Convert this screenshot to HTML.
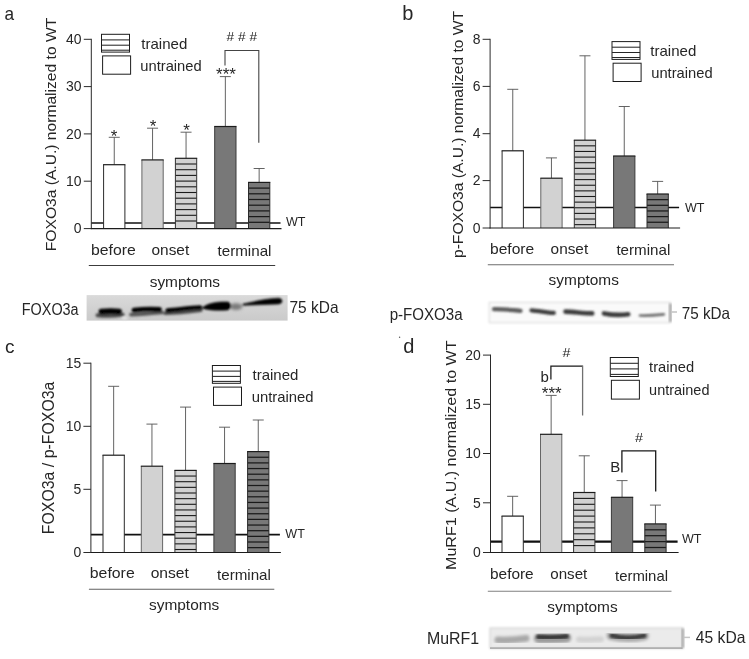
<!DOCTYPE html>
<html><head><meta charset="utf-8"><title>figure</title>
<style>
html,body{margin:0;padding:0;background:#fff;}
svg{display:block;opacity:0.999;font-family:"Liberation Sans",sans-serif;}
</style></head><body>
<svg width="749" height="659" viewBox="0 0 749 659">
<defs>
<filter id="bl1" x="-10%" y="-50%" width="120%" height="200%"><feGaussianBlur stdDeviation="0.9"/></filter>
<linearGradient id="bga" x1="0" y1="0" x2="0" y2="1"><stop offset="0" stop-color="#dadada"/><stop offset="1" stop-color="#cacaca"/></linearGradient>
<filter id="bl2" x="-10%" y="-50%" width="120%" height="200%"><feGaussianBlur stdDeviation="0.8"/></filter>
<filter id="bl4" x="-2%" y="-200%" width="104%" height="500%"><feGaussianBlur stdDeviation="0.7"/></filter>
<filter id="bl3" x="-10%" y="-50%" width="120%" height="200%"><feGaussianBlur stdDeviation="1.6"/></filter>
</defs>
<rect width="749" height="659" fill="#fff"/>

<g id="pa">
<text x="4.6" y="19.8" font-size="19" text-anchor="start" fill="#262626" textLength="9.6" lengthAdjust="spacingAndGlyphs">a</text>
<text transform="translate(56.0,251.2) rotate(-90)" font-size="15.5" fill="#262626" textLength="233.4" lengthAdjust="spacingAndGlyphs">FOXO3a (A.U.) normalized to WT</text>
<line x1="91.3" y1="223" x2="280.5" y2="223" stroke="#111" stroke-width="1.7"/>
<line x1="114.25" y1="137.3" x2="114.25" y2="164.7" stroke="#525252" stroke-width="0.9"/>
<line x1="108.75" y1="137.3" x2="119.75" y2="137.3" stroke="#525252" stroke-width="0.9"/>
<rect x="103.6" y="164.7" width="21.3" height="63.9" fill="#fff" stroke="none"/>
<line x1="103.6" y1="164.7" x2="103.6" y2="228.6" stroke="#2a2a2a" stroke-width="1.0"/>
<line x1="124.89999999999999" y1="164.7" x2="124.89999999999999" y2="228.6" stroke="#2a2a2a" stroke-width="1.0"/>
<line x1="103.1" y1="164.7" x2="125.39999999999999" y2="164.7" stroke="#1c1c1c" stroke-width="1.2"/>
<line x1="152.55" y1="128.2" x2="152.55" y2="159.9" stroke="#525252" stroke-width="0.9"/>
<line x1="147.05" y1="128.2" x2="158.05" y2="128.2" stroke="#525252" stroke-width="0.9"/>
<rect x="141.9" y="159.9" width="21.3" height="68.7" fill="#d2d2d2" stroke="none"/>
<line x1="141.9" y1="159.9" x2="141.9" y2="228.6" stroke="#666" stroke-width="1.0"/>
<line x1="163.20000000000002" y1="159.9" x2="163.20000000000002" y2="228.6" stroke="#666" stroke-width="1.0"/>
<line x1="141.4" y1="159.9" x2="163.70000000000002" y2="159.9" stroke="#1c1c1c" stroke-width="1.2"/>
<line x1="186.05" y1="132.2" x2="186.05" y2="158.3" stroke="#525252" stroke-width="0.9"/>
<line x1="180.55" y1="132.2" x2="191.55" y2="132.2" stroke="#525252" stroke-width="0.9"/>
<rect x="175.4" y="158.3" width="21.3" height="70.3" fill="#d2d2d2" stroke="none"/>
<line x1="175.4" y1="164.0" x2="196.70000000000002" y2="164.0" stroke="#1a1a1a" stroke-width="1.1"/>
<line x1="175.4" y1="169.7" x2="196.70000000000002" y2="169.7" stroke="#1a1a1a" stroke-width="1.1"/>
<line x1="175.4" y1="175.4" x2="196.70000000000002" y2="175.4" stroke="#1a1a1a" stroke-width="1.1"/>
<line x1="175.4" y1="181.1" x2="196.70000000000002" y2="181.1" stroke="#1a1a1a" stroke-width="1.1"/>
<line x1="175.4" y1="186.8" x2="196.70000000000002" y2="186.8" stroke="#1a1a1a" stroke-width="1.1"/>
<line x1="175.4" y1="192.5" x2="196.70000000000002" y2="192.5" stroke="#1a1a1a" stroke-width="1.1"/>
<line x1="175.4" y1="198.2" x2="196.70000000000002" y2="198.2" stroke="#1a1a1a" stroke-width="1.1"/>
<line x1="175.4" y1="203.9" x2="196.70000000000002" y2="203.9" stroke="#1a1a1a" stroke-width="1.1"/>
<line x1="175.4" y1="209.6" x2="196.70000000000002" y2="209.6" stroke="#1a1a1a" stroke-width="1.1"/>
<line x1="175.4" y1="215.3" x2="196.70000000000002" y2="215.3" stroke="#1a1a1a" stroke-width="1.1"/>
<line x1="175.4" y1="221.0" x2="196.70000000000002" y2="221.0" stroke="#1a1a1a" stroke-width="1.1"/>
<line x1="175.4" y1="158.3" x2="175.4" y2="228.6" stroke="#333" stroke-width="1.0"/>
<line x1="196.70000000000002" y1="158.3" x2="196.70000000000002" y2="228.6" stroke="#333" stroke-width="1.0"/>
<line x1="174.9" y1="158.3" x2="197.20000000000002" y2="158.3" stroke="#1c1c1c" stroke-width="1.2"/>
<line x1="225.35" y1="76.6" x2="225.35" y2="126.5" stroke="#525252" stroke-width="0.9"/>
<line x1="219.85" y1="76.6" x2="230.85" y2="76.6" stroke="#525252" stroke-width="0.9"/>
<rect x="214.7" y="126.5" width="21.3" height="102.1" fill="#787878" stroke="none"/>
<line x1="214.7" y1="126.5" x2="214.7" y2="228.6" stroke="#3a3a3a" stroke-width="1.0"/>
<line x1="236.0" y1="126.5" x2="236.0" y2="228.6" stroke="#3a3a3a" stroke-width="1.0"/>
<line x1="214.2" y1="126.5" x2="236.5" y2="126.5" stroke="#1c1c1c" stroke-width="1.2"/>
<line x1="259.15" y1="168.5" x2="259.15" y2="182.4" stroke="#525252" stroke-width="0.9"/>
<line x1="253.64999999999998" y1="168.5" x2="264.65" y2="168.5" stroke="#525252" stroke-width="0.9"/>
<rect x="248.5" y="182.4" width="21.3" height="46.2" fill="#787878" stroke="none"/>
<line x1="248.5" y1="188.1" x2="269.8" y2="188.1" stroke="#1a1a1a" stroke-width="1.25"/>
<line x1="248.5" y1="193.8" x2="269.8" y2="193.8" stroke="#1a1a1a" stroke-width="1.25"/>
<line x1="248.5" y1="199.5" x2="269.8" y2="199.5" stroke="#1a1a1a" stroke-width="1.25"/>
<line x1="248.5" y1="205.2" x2="269.8" y2="205.2" stroke="#1a1a1a" stroke-width="1.25"/>
<line x1="248.5" y1="210.9" x2="269.8" y2="210.9" stroke="#1a1a1a" stroke-width="1.25"/>
<line x1="248.5" y1="216.6" x2="269.8" y2="216.6" stroke="#1a1a1a" stroke-width="1.25"/>
<line x1="248.5" y1="222.3" x2="269.8" y2="222.3" stroke="#1a1a1a" stroke-width="1.25"/>
<line x1="248.5" y1="182.4" x2="248.5" y2="228.6" stroke="#2a2a2a" stroke-width="1.0"/>
<line x1="269.8" y1="182.4" x2="269.8" y2="228.6" stroke="#2a2a2a" stroke-width="1.0"/>
<line x1="248.0" y1="182.4" x2="270.3" y2="182.4" stroke="#1c1c1c" stroke-width="1.2"/>
<line x1="91.3" y1="38.8" x2="91.3" y2="229.1" stroke="#2a2a2a" stroke-width="1.0"/>
<line x1="90.8" y1="228.6" x2="281.5" y2="228.6" stroke="#1c1c1c" stroke-width="1.15"/>
<line x1="83.8" y1="39.3" x2="91.3" y2="39.3" stroke="#2a2a2a" stroke-width="1.0"/>
<text x="81.6" y="44.0" font-size="14.7" text-anchor="end" fill="#262626" textLength="15.52" lengthAdjust="spacingAndGlyphs">40</text>
<line x1="83.8" y1="86.6" x2="91.3" y2="86.6" stroke="#2a2a2a" stroke-width="1.0"/>
<text x="81.6" y="91.3" font-size="14.7" text-anchor="end" fill="#262626" textLength="15.52" lengthAdjust="spacingAndGlyphs">30</text>
<line x1="83.8" y1="133.9" x2="91.3" y2="133.9" stroke="#2a2a2a" stroke-width="1.0"/>
<text x="81.6" y="138.6" font-size="14.7" text-anchor="end" fill="#262626" textLength="15.52" lengthAdjust="spacingAndGlyphs">20</text>
<line x1="83.8" y1="181.2" x2="91.3" y2="181.2" stroke="#2a2a2a" stroke-width="1.0"/>
<text x="81.6" y="185.89999999999998" font-size="14.7" text-anchor="end" fill="#262626" textLength="15.52" lengthAdjust="spacingAndGlyphs">10</text>
<line x1="83.8" y1="228.6" x2="91.3" y2="228.6" stroke="#2a2a2a" stroke-width="1.0"/>
<text x="81.6" y="233.29999999999998" font-size="14.7" text-anchor="end" fill="#262626" textLength="7.76" lengthAdjust="spacingAndGlyphs">0</text>
<text x="91.0" y="254.5" font-size="15" text-anchor="start" fill="#262626" textLength="44.8" lengthAdjust="spacingAndGlyphs">before</text>
<text x="151.5" y="254.5" font-size="15" text-anchor="start" fill="#262626" textLength="37.7" lengthAdjust="spacingAndGlyphs">onset</text>
<text x="217.5" y="256.4" font-size="15" text-anchor="start" fill="#262626" textLength="54" lengthAdjust="spacingAndGlyphs">terminal</text>
<line x1="88.8" y1="265.5" x2="275.2" y2="265.5" stroke="#3c3c3c" stroke-width="1.1"/>
<text x="149.7" y="286.6" font-size="15" text-anchor="start" fill="#262626" textLength="70.3" lengthAdjust="spacingAndGlyphs">symptoms</text>
<text x="286" y="226.4" font-size="12.5" text-anchor="start" fill="#262626" textLength="19.5" lengthAdjust="spacingAndGlyphs">WT</text>
<rect x="101.5" y="34.3" width="28" height="17.8" fill="#fff" stroke="#1c1c1c" stroke-width="1"/>
<line x1="101.5" y1="39.9" x2="129.5" y2="39.9" stroke="#262626" stroke-width="1.05"/>
<line x1="101.5" y1="45.199999999999996" x2="129.5" y2="45.199999999999996" stroke="#262626" stroke-width="1.05"/>
<line x1="101.5" y1="50.199999999999996" x2="129.5" y2="50.199999999999996" stroke="#262626" stroke-width="1.05"/>
<rect x="102.6" y="55.9" width="28" height="18.3" fill="#fff" stroke="#1c1c1c" stroke-width="1"/>
<text x="141.3" y="49.0" font-size="15" text-anchor="start" fill="#262626" textLength="46" lengthAdjust="spacingAndGlyphs">trained</text>
<text x="140.3" y="70.6" font-size="15" text-anchor="start" fill="#262626" textLength="61.4" lengthAdjust="spacingAndGlyphs">untrained</text>
<text x="114.1" y="142" font-size="17" text-anchor="middle" fill="#262626">*</text>
<text x="153" y="132.4" font-size="17" text-anchor="middle" fill="#262626">*</text>
<text x="186.6" y="135.7" font-size="17" text-anchor="middle" fill="#262626">*</text>
<text x="226" y="80.2" font-size="17" text-anchor="middle" fill="#262626">***</text>
<text x="226.6" y="41" font-size="12.5" text-anchor="start" fill="#262626" textLength="30.5" lengthAdjust="spacingAndGlyphs"># # #</text>
<polyline points="225,65.5 225,50.5 258.8,50.5 258.8,142.7" fill="none" stroke="#444" stroke-width="1.1"/>
</g>
<g id="pb">
<text x="402.2" y="19.8" font-size="20" text-anchor="start" fill="#262626">b</text>
<text transform="translate(462.8,258) rotate(-90)" font-size="15.5" fill="#262626" textLength="247" lengthAdjust="spacingAndGlyphs">p-FOXO3a (A.U.) normalized to WT</text>
<line x1="490.1" y1="207.5" x2="679.1" y2="207.5" stroke="#111" stroke-width="1.4"/>
<line x1="512.75" y1="89.3" x2="512.75" y2="150.8" stroke="#525252" stroke-width="0.9"/>
<line x1="507.25" y1="89.3" x2="518.25" y2="89.3" stroke="#525252" stroke-width="0.9"/>
<rect x="502.1" y="150.8" width="21.3" height="77.2" fill="#fff" stroke="none"/>
<line x1="502.1" y1="150.8" x2="502.1" y2="228" stroke="#2a2a2a" stroke-width="1.0"/>
<line x1="523.4" y1="150.8" x2="523.4" y2="228" stroke="#2a2a2a" stroke-width="1.0"/>
<line x1="501.6" y1="150.8" x2="523.9" y2="150.8" stroke="#1c1c1c" stroke-width="1.2"/>
<line x1="551.4499999999999" y1="157.9" x2="551.4499999999999" y2="178.2" stroke="#525252" stroke-width="0.9"/>
<line x1="545.9499999999999" y1="157.9" x2="556.9499999999999" y2="157.9" stroke="#525252" stroke-width="0.9"/>
<rect x="540.8" y="178.2" width="21.3" height="49.8" fill="#d2d2d2" stroke="none"/>
<line x1="540.8" y1="178.2" x2="540.8" y2="228" stroke="#666" stroke-width="1.0"/>
<line x1="562.0999999999999" y1="178.2" x2="562.0999999999999" y2="228" stroke="#666" stroke-width="1.0"/>
<line x1="540.3" y1="178.2" x2="562.5999999999999" y2="178.2" stroke="#1c1c1c" stroke-width="1.2"/>
<line x1="584.9499999999999" y1="55.8" x2="584.9499999999999" y2="140.2" stroke="#525252" stroke-width="0.9"/>
<line x1="579.4499999999999" y1="55.8" x2="590.4499999999999" y2="55.8" stroke="#525252" stroke-width="0.9"/>
<rect x="574.3" y="140.2" width="21.3" height="87.8" fill="#d2d2d2" stroke="none"/>
<line x1="574.3" y1="145.83" x2="595.5999999999999" y2="145.83" stroke="#1a1a1a" stroke-width="1.1"/>
<line x1="574.3" y1="151.46" x2="595.5999999999999" y2="151.46" stroke="#1a1a1a" stroke-width="1.1"/>
<line x1="574.3" y1="157.09" x2="595.5999999999999" y2="157.09" stroke="#1a1a1a" stroke-width="1.1"/>
<line x1="574.3" y1="162.72" x2="595.5999999999999" y2="162.72" stroke="#1a1a1a" stroke-width="1.1"/>
<line x1="574.3" y1="168.35" x2="595.5999999999999" y2="168.35" stroke="#1a1a1a" stroke-width="1.1"/>
<line x1="574.3" y1="173.98" x2="595.5999999999999" y2="173.98" stroke="#1a1a1a" stroke-width="1.1"/>
<line x1="574.3" y1="179.61" x2="595.5999999999999" y2="179.61" stroke="#1a1a1a" stroke-width="1.1"/>
<line x1="574.3" y1="185.24" x2="595.5999999999999" y2="185.24" stroke="#1a1a1a" stroke-width="1.1"/>
<line x1="574.3" y1="190.87" x2="595.5999999999999" y2="190.87" stroke="#1a1a1a" stroke-width="1.1"/>
<line x1="574.3" y1="196.5" x2="595.5999999999999" y2="196.5" stroke="#1a1a1a" stroke-width="1.1"/>
<line x1="574.3" y1="202.13" x2="595.5999999999999" y2="202.13" stroke="#1a1a1a" stroke-width="1.1"/>
<line x1="574.3" y1="207.76" x2="595.5999999999999" y2="207.76" stroke="#1a1a1a" stroke-width="1.1"/>
<line x1="574.3" y1="213.39" x2="595.5999999999999" y2="213.39" stroke="#1a1a1a" stroke-width="1.1"/>
<line x1="574.3" y1="219.02" x2="595.5999999999999" y2="219.02" stroke="#1a1a1a" stroke-width="1.1"/>
<line x1="574.3" y1="224.65" x2="595.5999999999999" y2="224.65" stroke="#1a1a1a" stroke-width="1.1"/>
<line x1="574.3" y1="140.2" x2="574.3" y2="228" stroke="#333" stroke-width="1.0"/>
<line x1="595.5999999999999" y1="140.2" x2="595.5999999999999" y2="228" stroke="#333" stroke-width="1.0"/>
<line x1="573.8" y1="140.2" x2="596.0999999999999" y2="140.2" stroke="#1c1c1c" stroke-width="1.2"/>
<line x1="624.25" y1="106.5" x2="624.25" y2="156.0" stroke="#525252" stroke-width="0.9"/>
<line x1="618.75" y1="106.5" x2="629.75" y2="106.5" stroke="#525252" stroke-width="0.9"/>
<rect x="613.6" y="156.0" width="21.3" height="72.0" fill="#787878" stroke="none"/>
<line x1="613.6" y1="156.0" x2="613.6" y2="228" stroke="#3a3a3a" stroke-width="1.0"/>
<line x1="634.9" y1="156.0" x2="634.9" y2="228" stroke="#3a3a3a" stroke-width="1.0"/>
<line x1="613.1" y1="156.0" x2="635.4" y2="156.0" stroke="#1c1c1c" stroke-width="1.2"/>
<line x1="657.65" y1="181.4" x2="657.65" y2="194.0" stroke="#525252" stroke-width="0.9"/>
<line x1="652.15" y1="181.4" x2="663.15" y2="181.4" stroke="#525252" stroke-width="0.9"/>
<rect x="647.0" y="194.0" width="21.3" height="34.0" fill="#787878" stroke="none"/>
<line x1="647.0" y1="199.65" x2="668.3" y2="199.65" stroke="#1a1a1a" stroke-width="1.25"/>
<line x1="647.0" y1="205.3" x2="668.3" y2="205.3" stroke="#1a1a1a" stroke-width="1.25"/>
<line x1="647.0" y1="210.95" x2="668.3" y2="210.95" stroke="#1a1a1a" stroke-width="1.25"/>
<line x1="647.0" y1="216.6" x2="668.3" y2="216.6" stroke="#1a1a1a" stroke-width="1.25"/>
<line x1="647.0" y1="222.25" x2="668.3" y2="222.25" stroke="#1a1a1a" stroke-width="1.25"/>
<line x1="647.0" y1="194.0" x2="647.0" y2="228" stroke="#2a2a2a" stroke-width="1.0"/>
<line x1="668.3" y1="194.0" x2="668.3" y2="228" stroke="#2a2a2a" stroke-width="1.0"/>
<line x1="646.5" y1="194.0" x2="668.8" y2="194.0" stroke="#1c1c1c" stroke-width="1.2"/>
<line x1="490.1" y1="38.8" x2="490.1" y2="228.5" stroke="#2a2a2a" stroke-width="1.0"/>
<line x1="489.6" y1="228" x2="680.1" y2="228" stroke="#1c1c1c" stroke-width="1.15"/>
<line x1="482.6" y1="39.3" x2="490.1" y2="39.3" stroke="#2a2a2a" stroke-width="1.0"/>
<text x="480.40000000000003" y="44.0" font-size="14.7" text-anchor="end" fill="#262626" textLength="7.76" lengthAdjust="spacingAndGlyphs">8</text>
<line x1="482.6" y1="86.4" x2="490.1" y2="86.4" stroke="#2a2a2a" stroke-width="1.0"/>
<text x="480.40000000000003" y="91.10000000000001" font-size="14.7" text-anchor="end" fill="#262626" textLength="7.76" lengthAdjust="spacingAndGlyphs">6</text>
<line x1="482.6" y1="133.7" x2="490.1" y2="133.7" stroke="#2a2a2a" stroke-width="1.0"/>
<text x="480.40000000000003" y="138.39999999999998" font-size="14.7" text-anchor="end" fill="#262626" textLength="7.76" lengthAdjust="spacingAndGlyphs">4</text>
<line x1="482.6" y1="180.6" x2="490.1" y2="180.6" stroke="#2a2a2a" stroke-width="1.0"/>
<text x="480.40000000000003" y="185.29999999999998" font-size="14.7" text-anchor="end" fill="#262626" textLength="7.76" lengthAdjust="spacingAndGlyphs">2</text>
<line x1="482.6" y1="228" x2="490.1" y2="228" stroke="#2a2a2a" stroke-width="1.0"/>
<text x="480.40000000000003" y="232.7" font-size="14.7" text-anchor="end" fill="#262626" textLength="7.76" lengthAdjust="spacingAndGlyphs">0</text>
<text x="490.0" y="253.8" font-size="15" text-anchor="start" fill="#262626" textLength="44.2" lengthAdjust="spacingAndGlyphs">before</text>
<text x="550.6" y="253.8" font-size="15" text-anchor="start" fill="#262626" textLength="37.6" lengthAdjust="spacingAndGlyphs">onset</text>
<text x="616.4" y="255.4" font-size="15" text-anchor="start" fill="#262626" textLength="53.9" lengthAdjust="spacingAndGlyphs">terminal</text>
<line x1="487.8" y1="264.7" x2="674" y2="264.7" stroke="#6c6c6c" stroke-width="1.1"/>
<text x="548.6" y="285.3" font-size="15" text-anchor="start" fill="#262626" textLength="70.3" lengthAdjust="spacingAndGlyphs">symptoms</text>
<text x="684.9" y="212.4" font-size="12.5" text-anchor="start" fill="#262626" textLength="19.5" lengthAdjust="spacingAndGlyphs">WT</text>
<rect x="612" y="41.6" width="28" height="17.8" fill="#fff" stroke="#1c1c1c" stroke-width="1"/>
<line x1="612" y1="47.2" x2="640" y2="47.2" stroke="#262626" stroke-width="1.05"/>
<line x1="612" y1="52.5" x2="640" y2="52.5" stroke="#262626" stroke-width="1.05"/>
<line x1="612" y1="57.5" x2="640" y2="57.5" stroke="#262626" stroke-width="1.05"/>
<rect x="613.1" y="63.2" width="28" height="18.3" fill="#fff" stroke="#1c1c1c" stroke-width="1"/>
<text x="650.3" y="55.5" font-size="15" text-anchor="start" fill="#262626" textLength="46" lengthAdjust="spacingAndGlyphs">trained</text>
<text x="651.1999999999999" y="77.5" font-size="15" text-anchor="start" fill="#262626" textLength="61.4" lengthAdjust="spacingAndGlyphs">untrained</text>
</g>
<g id="pc">
<text x="5" y="352.8" font-size="19" text-anchor="start" fill="#262626">c</text>
<text transform="translate(54.4,534.2) rotate(-90)" font-size="15.6" fill="#262626" textLength="152.6" lengthAdjust="spacingAndGlyphs">FOXO3a / p-FOXO3a</text>
<line x1="90.9" y1="534.6" x2="279.9" y2="534.6" stroke="#111" stroke-width="1.7"/>
<line x1="113.65" y1="386.3" x2="113.65" y2="455.2" stroke="#525252" stroke-width="0.9"/>
<line x1="108.15" y1="386.3" x2="119.15" y2="386.3" stroke="#525252" stroke-width="0.9"/>
<rect x="103.0" y="455.2" width="21.3" height="97.3" fill="#fff" stroke="none"/>
<line x1="103.0" y1="455.2" x2="103.0" y2="552.5" stroke="#2a2a2a" stroke-width="1.0"/>
<line x1="124.3" y1="455.2" x2="124.3" y2="552.5" stroke="#2a2a2a" stroke-width="1.0"/>
<line x1="102.5" y1="455.2" x2="124.8" y2="455.2" stroke="#1c1c1c" stroke-width="1.2"/>
<line x1="151.95000000000002" y1="424.1" x2="151.95000000000002" y2="466.2" stroke="#525252" stroke-width="0.9"/>
<line x1="146.45000000000002" y1="424.1" x2="157.45000000000002" y2="424.1" stroke="#525252" stroke-width="0.9"/>
<rect x="141.3" y="466.2" width="21.3" height="86.3" fill="#d2d2d2" stroke="none"/>
<line x1="141.3" y1="466.2" x2="141.3" y2="552.5" stroke="#666" stroke-width="1.0"/>
<line x1="162.60000000000002" y1="466.2" x2="162.60000000000002" y2="552.5" stroke="#666" stroke-width="1.0"/>
<line x1="140.8" y1="466.2" x2="163.10000000000002" y2="466.2" stroke="#1c1c1c" stroke-width="1.2"/>
<line x1="185.55" y1="407.1" x2="185.55" y2="470.4" stroke="#525252" stroke-width="0.9"/>
<line x1="180.05" y1="407.1" x2="191.05" y2="407.1" stroke="#525252" stroke-width="0.9"/>
<rect x="174.9" y="470.4" width="21.3" height="82.1" fill="#d2d2d2" stroke="none"/>
<line x1="174.9" y1="476.05" x2="196.20000000000002" y2="476.05" stroke="#1a1a1a" stroke-width="1.1"/>
<line x1="174.9" y1="481.7" x2="196.20000000000002" y2="481.7" stroke="#1a1a1a" stroke-width="1.1"/>
<line x1="174.9" y1="487.35" x2="196.20000000000002" y2="487.35" stroke="#1a1a1a" stroke-width="1.1"/>
<line x1="174.9" y1="493.0" x2="196.20000000000002" y2="493.0" stroke="#1a1a1a" stroke-width="1.1"/>
<line x1="174.9" y1="498.65" x2="196.20000000000002" y2="498.65" stroke="#1a1a1a" stroke-width="1.1"/>
<line x1="174.9" y1="504.3" x2="196.20000000000002" y2="504.3" stroke="#1a1a1a" stroke-width="1.1"/>
<line x1="174.9" y1="509.95" x2="196.20000000000002" y2="509.95" stroke="#1a1a1a" stroke-width="1.1"/>
<line x1="174.9" y1="515.6" x2="196.20000000000002" y2="515.6" stroke="#1a1a1a" stroke-width="1.1"/>
<line x1="174.9" y1="521.25" x2="196.20000000000002" y2="521.25" stroke="#1a1a1a" stroke-width="1.1"/>
<line x1="174.9" y1="526.9" x2="196.20000000000002" y2="526.9" stroke="#1a1a1a" stroke-width="1.1"/>
<line x1="174.9" y1="532.55" x2="196.20000000000002" y2="532.55" stroke="#1a1a1a" stroke-width="1.1"/>
<line x1="174.9" y1="538.2" x2="196.20000000000002" y2="538.2" stroke="#1a1a1a" stroke-width="1.1"/>
<line x1="174.9" y1="543.85" x2="196.20000000000002" y2="543.85" stroke="#1a1a1a" stroke-width="1.1"/>
<line x1="174.9" y1="549.5" x2="196.20000000000002" y2="549.5" stroke="#1a1a1a" stroke-width="1.1"/>
<line x1="174.9" y1="470.4" x2="174.9" y2="552.5" stroke="#333" stroke-width="1.0"/>
<line x1="196.20000000000002" y1="470.4" x2="196.20000000000002" y2="552.5" stroke="#333" stroke-width="1.0"/>
<line x1="174.4" y1="470.4" x2="196.70000000000002" y2="470.4" stroke="#1c1c1c" stroke-width="1.2"/>
<line x1="224.55" y1="427.2" x2="224.55" y2="463.5" stroke="#525252" stroke-width="0.9"/>
<line x1="219.05" y1="427.2" x2="230.05" y2="427.2" stroke="#525252" stroke-width="0.9"/>
<rect x="213.9" y="463.5" width="21.3" height="89.0" fill="#787878" stroke="none"/>
<line x1="213.9" y1="463.5" x2="213.9" y2="552.5" stroke="#3a3a3a" stroke-width="1.0"/>
<line x1="235.20000000000002" y1="463.5" x2="235.20000000000002" y2="552.5" stroke="#3a3a3a" stroke-width="1.0"/>
<line x1="213.4" y1="463.5" x2="235.70000000000002" y2="463.5" stroke="#1c1c1c" stroke-width="1.2"/>
<line x1="258.25" y1="420" x2="258.25" y2="451.6" stroke="#525252" stroke-width="0.9"/>
<line x1="252.75" y1="420" x2="263.75" y2="420" stroke="#525252" stroke-width="0.9"/>
<rect x="247.6" y="451.6" width="21.3" height="100.9" fill="#787878" stroke="none"/>
<line x1="247.6" y1="457.25" x2="268.9" y2="457.25" stroke="#1a1a1a" stroke-width="1.25"/>
<line x1="247.6" y1="462.9" x2="268.9" y2="462.9" stroke="#1a1a1a" stroke-width="1.25"/>
<line x1="247.6" y1="468.55" x2="268.9" y2="468.55" stroke="#1a1a1a" stroke-width="1.25"/>
<line x1="247.6" y1="474.2" x2="268.9" y2="474.2" stroke="#1a1a1a" stroke-width="1.25"/>
<line x1="247.6" y1="479.85" x2="268.9" y2="479.85" stroke="#1a1a1a" stroke-width="1.25"/>
<line x1="247.6" y1="485.5" x2="268.9" y2="485.5" stroke="#1a1a1a" stroke-width="1.25"/>
<line x1="247.6" y1="491.15" x2="268.9" y2="491.15" stroke="#1a1a1a" stroke-width="1.25"/>
<line x1="247.6" y1="496.8" x2="268.9" y2="496.8" stroke="#1a1a1a" stroke-width="1.25"/>
<line x1="247.6" y1="502.45" x2="268.9" y2="502.45" stroke="#1a1a1a" stroke-width="1.25"/>
<line x1="247.6" y1="508.1" x2="268.9" y2="508.1" stroke="#1a1a1a" stroke-width="1.25"/>
<line x1="247.6" y1="513.75" x2="268.9" y2="513.75" stroke="#1a1a1a" stroke-width="1.25"/>
<line x1="247.6" y1="519.4" x2="268.9" y2="519.4" stroke="#1a1a1a" stroke-width="1.25"/>
<line x1="247.6" y1="525.05" x2="268.9" y2="525.05" stroke="#1a1a1a" stroke-width="1.25"/>
<line x1="247.6" y1="530.7" x2="268.9" y2="530.7" stroke="#1a1a1a" stroke-width="1.25"/>
<line x1="247.6" y1="536.35" x2="268.9" y2="536.35" stroke="#1a1a1a" stroke-width="1.25"/>
<line x1="247.6" y1="542.0" x2="268.9" y2="542.0" stroke="#1a1a1a" stroke-width="1.25"/>
<line x1="247.6" y1="547.65" x2="268.9" y2="547.65" stroke="#1a1a1a" stroke-width="1.25"/>
<line x1="247.6" y1="451.6" x2="247.6" y2="552.5" stroke="#2a2a2a" stroke-width="1.0"/>
<line x1="268.9" y1="451.6" x2="268.9" y2="552.5" stroke="#2a2a2a" stroke-width="1.0"/>
<line x1="247.1" y1="451.6" x2="269.4" y2="451.6" stroke="#1c1c1c" stroke-width="1.2"/>
<line x1="90.9" y1="362.7" x2="90.9" y2="553.0" stroke="#2a2a2a" stroke-width="1.0"/>
<line x1="90.4" y1="552.5" x2="280.9" y2="552.5" stroke="#1c1c1c" stroke-width="1.15"/>
<line x1="83.4" y1="363.2" x2="90.9" y2="363.2" stroke="#2a2a2a" stroke-width="1.0"/>
<text x="81.2" y="367.9" font-size="14.7" text-anchor="end" fill="#262626" textLength="15.52" lengthAdjust="spacingAndGlyphs">15</text>
<line x1="83.4" y1="426.3" x2="90.9" y2="426.3" stroke="#2a2a2a" stroke-width="1.0"/>
<text x="81.2" y="431.0" font-size="14.7" text-anchor="end" fill="#262626" textLength="15.52" lengthAdjust="spacingAndGlyphs">10</text>
<line x1="83.4" y1="489.3" x2="90.9" y2="489.3" stroke="#2a2a2a" stroke-width="1.0"/>
<text x="81.2" y="494.0" font-size="14.7" text-anchor="end" fill="#262626" textLength="7.76" lengthAdjust="spacingAndGlyphs">5</text>
<line x1="83.4" y1="552.5" x2="90.9" y2="552.5" stroke="#2a2a2a" stroke-width="1.0"/>
<text x="81.2" y="557.2" font-size="14.7" text-anchor="end" fill="#262626" textLength="7.76" lengthAdjust="spacingAndGlyphs">0</text>
<text x="89.8" y="578.3" font-size="15" text-anchor="start" fill="#262626" textLength="44.9" lengthAdjust="spacingAndGlyphs">before</text>
<text x="150.7" y="578.3" font-size="15" text-anchor="start" fill="#262626" textLength="38.2" lengthAdjust="spacingAndGlyphs">onset</text>
<text x="217.0" y="579.6" font-size="15" text-anchor="start" fill="#262626" textLength="53.9" lengthAdjust="spacingAndGlyphs">terminal</text>
<line x1="88.9" y1="589.3" x2="274.3" y2="589.3" stroke="#606060" stroke-width="1.1"/>
<text x="149" y="610" font-size="15" text-anchor="start" fill="#262626" textLength="70.3" lengthAdjust="spacingAndGlyphs">symptoms</text>
<text x="285.3" y="538.1" font-size="12.5" text-anchor="start" fill="#262626" textLength="19.5" lengthAdjust="spacingAndGlyphs">WT</text>
<rect x="212.4" y="365.5" width="28" height="17.8" fill="#fff" stroke="#1c1c1c" stroke-width="1"/>
<line x1="212.4" y1="371.1" x2="240.4" y2="371.1" stroke="#262626" stroke-width="1.05"/>
<line x1="212.4" y1="376.4" x2="240.4" y2="376.4" stroke="#262626" stroke-width="1.05"/>
<line x1="212.4" y1="381.4" x2="240.4" y2="381.4" stroke="#262626" stroke-width="1.05"/>
<rect x="213.5" y="387.1" width="28" height="18.3" fill="#fff" stroke="#1c1c1c" stroke-width="1"/>
<text x="252.5" y="379.7" font-size="15" text-anchor="start" fill="#262626" textLength="45.9" lengthAdjust="spacingAndGlyphs">trained</text>
<text x="251.7" y="402" font-size="15" text-anchor="start" fill="#262626" textLength="61.9" lengthAdjust="spacingAndGlyphs">untrained</text>
</g>
<g id="pd">
<text x="403.2" y="352.5" font-size="20" text-anchor="start" fill="#262626">d</text>
<circle cx="399.6" cy="337.2" r="0.7" fill="#555"/>
<text transform="translate(456.0,570) rotate(-90)" font-size="15.3" fill="#262626" textLength="229.6" lengthAdjust="spacingAndGlyphs">MuRF1 (A.U.) normalized to WT</text>
<line x1="490.5" y1="541.6" x2="677.6" y2="541.6" stroke="#111" stroke-width="2.2"/>
<line x1="512.65" y1="496.3" x2="512.65" y2="516.1" stroke="#525252" stroke-width="0.9"/>
<line x1="507.15" y1="496.3" x2="518.15" y2="496.3" stroke="#525252" stroke-width="0.9"/>
<rect x="502.0" y="516.1" width="21.3" height="36.4" fill="#fff" stroke="none"/>
<line x1="502.0" y1="516.1" x2="502.0" y2="552.5" stroke="#2a2a2a" stroke-width="1.0"/>
<line x1="523.3" y1="516.1" x2="523.3" y2="552.5" stroke="#2a2a2a" stroke-width="1.0"/>
<line x1="501.5" y1="516.1" x2="523.8" y2="516.1" stroke="#1c1c1c" stroke-width="1.2"/>
<line x1="551.15" y1="395.4" x2="551.15" y2="434.3" stroke="#525252" stroke-width="0.9"/>
<line x1="545.65" y1="395.4" x2="556.65" y2="395.4" stroke="#525252" stroke-width="0.9"/>
<rect x="540.5" y="434.3" width="21.3" height="118.2" fill="#d2d2d2" stroke="none"/>
<line x1="540.5" y1="434.3" x2="540.5" y2="552.5" stroke="#666" stroke-width="1.0"/>
<line x1="561.8" y1="434.3" x2="561.8" y2="552.5" stroke="#666" stroke-width="1.0"/>
<line x1="540.0" y1="434.3" x2="562.3" y2="434.3" stroke="#1c1c1c" stroke-width="1.2"/>
<line x1="584.25" y1="455.8" x2="584.25" y2="492.5" stroke="#525252" stroke-width="0.9"/>
<line x1="578.75" y1="455.8" x2="589.75" y2="455.8" stroke="#525252" stroke-width="0.9"/>
<rect x="573.6" y="492.5" width="21.3" height="60.0" fill="#d2d2d2" stroke="none"/>
<line x1="573.6" y1="498.4" x2="594.9" y2="498.4" stroke="#1a1a1a" stroke-width="1.1"/>
<line x1="573.6" y1="504.3" x2="594.9" y2="504.3" stroke="#1a1a1a" stroke-width="1.1"/>
<line x1="573.6" y1="510.2" x2="594.9" y2="510.2" stroke="#1a1a1a" stroke-width="1.1"/>
<line x1="573.6" y1="516.1" x2="594.9" y2="516.1" stroke="#1a1a1a" stroke-width="1.1"/>
<line x1="573.6" y1="522.0" x2="594.9" y2="522.0" stroke="#1a1a1a" stroke-width="1.1"/>
<line x1="573.6" y1="527.9" x2="594.9" y2="527.9" stroke="#1a1a1a" stroke-width="1.1"/>
<line x1="573.6" y1="533.8" x2="594.9" y2="533.8" stroke="#1a1a1a" stroke-width="1.1"/>
<line x1="573.6" y1="539.7" x2="594.9" y2="539.7" stroke="#1a1a1a" stroke-width="1.1"/>
<line x1="573.6" y1="545.6" x2="594.9" y2="545.6" stroke="#1a1a1a" stroke-width="1.1"/>
<line x1="573.6" y1="492.5" x2="573.6" y2="552.5" stroke="#333" stroke-width="1.0"/>
<line x1="594.9" y1="492.5" x2="594.9" y2="552.5" stroke="#333" stroke-width="1.0"/>
<line x1="573.1" y1="492.5" x2="595.4" y2="492.5" stroke="#1c1c1c" stroke-width="1.2"/>
<line x1="622.05" y1="480.6" x2="622.05" y2="497.3" stroke="#525252" stroke-width="0.9"/>
<line x1="616.55" y1="480.6" x2="627.55" y2="480.6" stroke="#525252" stroke-width="0.9"/>
<rect x="611.4" y="497.3" width="21.3" height="55.2" fill="#787878" stroke="none"/>
<line x1="611.4" y1="497.3" x2="611.4" y2="552.5" stroke="#3a3a3a" stroke-width="1.0"/>
<line x1="632.6999999999999" y1="497.3" x2="632.6999999999999" y2="552.5" stroke="#3a3a3a" stroke-width="1.0"/>
<line x1="610.9" y1="497.3" x2="633.1999999999999" y2="497.3" stroke="#1c1c1c" stroke-width="1.2"/>
<line x1="655.4499999999999" y1="505.1" x2="655.4499999999999" y2="523.9" stroke="#525252" stroke-width="0.9"/>
<line x1="649.9499999999999" y1="505.1" x2="660.9499999999999" y2="505.1" stroke="#525252" stroke-width="0.9"/>
<rect x="644.8" y="523.9" width="21.3" height="28.6" fill="#787878" stroke="none"/>
<line x1="644.8" y1="529.8" x2="666.0999999999999" y2="529.8" stroke="#1a1a1a" stroke-width="1.25"/>
<line x1="644.8" y1="535.7" x2="666.0999999999999" y2="535.7" stroke="#1a1a1a" stroke-width="1.25"/>
<line x1="644.8" y1="541.6" x2="666.0999999999999" y2="541.6" stroke="#1a1a1a" stroke-width="1.25"/>
<line x1="644.8" y1="547.5" x2="666.0999999999999" y2="547.5" stroke="#1a1a1a" stroke-width="1.25"/>
<line x1="644.8" y1="523.9" x2="644.8" y2="552.5" stroke="#2a2a2a" stroke-width="1.0"/>
<line x1="666.0999999999999" y1="523.9" x2="666.0999999999999" y2="552.5" stroke="#2a2a2a" stroke-width="1.0"/>
<line x1="644.3" y1="523.9" x2="666.5999999999999" y2="523.9" stroke="#1c1c1c" stroke-width="1.2"/>
<line x1="490.5" y1="354.6" x2="490.5" y2="553.0" stroke="#2a2a2a" stroke-width="1.0"/>
<line x1="490.0" y1="552.5" x2="678.6" y2="552.5" stroke="#1c1c1c" stroke-width="1.15"/>
<line x1="483.0" y1="355.1" x2="490.5" y2="355.1" stroke="#2a2a2a" stroke-width="1.0"/>
<text x="480.8" y="359.8" font-size="14.7" text-anchor="end" fill="#262626" textLength="15.52" lengthAdjust="spacingAndGlyphs">20</text>
<line x1="483.0" y1="404.3" x2="490.5" y2="404.3" stroke="#2a2a2a" stroke-width="1.0"/>
<text x="480.8" y="409.0" font-size="14.7" text-anchor="end" fill="#262626" textLength="15.52" lengthAdjust="spacingAndGlyphs">15</text>
<line x1="483.0" y1="453.5" x2="490.5" y2="453.5" stroke="#2a2a2a" stroke-width="1.0"/>
<text x="480.8" y="458.2" font-size="14.7" text-anchor="end" fill="#262626" textLength="15.52" lengthAdjust="spacingAndGlyphs">10</text>
<line x1="483.0" y1="502.8" x2="490.5" y2="502.8" stroke="#2a2a2a" stroke-width="1.0"/>
<text x="480.8" y="507.5" font-size="14.7" text-anchor="end" fill="#262626" textLength="7.76" lengthAdjust="spacingAndGlyphs">5</text>
<line x1="483.0" y1="552.5" x2="490.5" y2="552.5" stroke="#2a2a2a" stroke-width="1.0"/>
<text x="480.8" y="557.2" font-size="14.7" text-anchor="end" fill="#262626" textLength="7.76" lengthAdjust="spacingAndGlyphs">0</text>
<text x="490.0" y="579" font-size="15" text-anchor="start" fill="#262626" textLength="43.7" lengthAdjust="spacingAndGlyphs">before</text>
<text x="550.3" y="579" font-size="15" text-anchor="start" fill="#262626" textLength="37.0" lengthAdjust="spacingAndGlyphs">onset</text>
<text x="615.0" y="580.8" font-size="15" text-anchor="start" fill="#262626" textLength="53.0" lengthAdjust="spacingAndGlyphs">terminal</text>
<line x1="487.8" y1="591.3" x2="671.5" y2="591.3" stroke="#808080" stroke-width="1.1"/>
<text x="547.3" y="612.3" font-size="15" text-anchor="start" fill="#262626" textLength="70.3" lengthAdjust="spacingAndGlyphs">symptoms</text>
<text x="681.9" y="543" font-size="12.5" text-anchor="start" fill="#262626" textLength="19.5" lengthAdjust="spacingAndGlyphs">WT</text>
<rect x="610.3" y="357.5" width="28" height="19" fill="#fff" stroke="#1c1c1c" stroke-width="1"/>
<line x1="610.3" y1="363.3" x2="638.3" y2="363.3" stroke="#262626" stroke-width="1.05"/>
<line x1="610.3" y1="368.9" x2="638.3" y2="368.9" stroke="#262626" stroke-width="1.05"/>
<line x1="610.3" y1="374.4" x2="638.3" y2="374.4" stroke="#262626" stroke-width="1.05"/>
<rect x="611.4" y="380.3" width="28" height="18.8" fill="#fff" stroke="#1c1c1c" stroke-width="1"/>
<text x="649.1" y="372.4" font-size="15" text-anchor="start" fill="#262626" textLength="45" lengthAdjust="spacingAndGlyphs">trained</text>
<text x="649.1" y="395.2" font-size="15" text-anchor="start" fill="#262626" textLength="60.4" lengthAdjust="spacingAndGlyphs">untrained</text>
<text x="540.6" y="381.5" font-size="15" text-anchor="start" fill="#262626">b</text>
<text x="551.7" y="399.4" font-size="17" text-anchor="middle" fill="#262626">***</text>
<text x="562.6" y="356.6" font-size="12.5" text-anchor="start" fill="#262626" textLength="8.0" lengthAdjust="spacingAndGlyphs">#</text>
<polyline points="550.9,379.5 550.9,366.1 582.6,366.1" fill="none" stroke="#1a1a1a" stroke-width="1.25"/>
<line x1="582.6" y1="365.5" x2="582.6" y2="415.5" stroke="#707070" stroke-width="1.3"/>
<text x="610.2" y="472.0" font-size="15" text-anchor="start" fill="#262626">B</text>
<text x="634.9" y="442.1" font-size="12.5" text-anchor="start" fill="#262626" textLength="8.0" lengthAdjust="spacingAndGlyphs">#</text>
<polyline points="621.9,472.4 621.9,450.8 655.7,450.8 655.7,491.6" fill="none" stroke="#1a1a1a" stroke-width="1.3"/>
</g>
<g id="blots">
<text x="21.8" y="314.8" font-size="16" text-anchor="start" fill="#262626" textLength="56.8" lengthAdjust="spacingAndGlyphs">FOXO3a</text>
<text x="289.5" y="313.3" font-size="16.5" text-anchor="start" fill="#262626" textLength="49" lengthAdjust="spacingAndGlyphs">75 kDa</text>
<rect x="86.6" y="295.1" width="201" height="25.5" fill="url(#bga)"/>
<g filter="url(#bl1)" fill="none" stroke-linecap="round">
<path d="M97.5,315.2 C105,316 115,315.8 122.5,314.6" stroke="#4a4a4a" stroke-width="4"/>
<path d="M131,314.6 C140,314.4 152,313.4 162,312.4" stroke="#555" stroke-width="3.6"/>
<path d="M165,313.2 C178,313 190,311.6 201,310.2" stroke="#4a4a4a" stroke-width="3.4"/>
<ellipse cx="236" cy="306.6" rx="6.5" ry="3.4" fill="#7a7a7a" stroke="none" filter="url(#bl2)"/>
<path d="M101.5,311.7 C107,311 114,311 119,311.6" stroke="#050505" stroke-width="5.8"/>
<path d="M134,310.2 C142,309.2 152,308.9 159.5,309.5" stroke="#050505" stroke-width="4.8"/>
<path d="M167.5,310.4 C178,309.6 190,307.6 200,307.4" stroke="#050505" stroke-width="4.4"/>
<path d="M202.5,307.6 C208,302.8 218,301.6 228,302 C231.5,303 231.5,309 227.5,310 C218,310.7 209,310.2 202.5,308.4 Z" fill="#050505" stroke="#050505" stroke-width="0.6"/>
<path d="M243,304 C255,301.4 268,298.4 278.5,298.2 C283.2,298.4 283.2,303.8 278.5,304 C268,304.3 255,304.9 243,305.3 Z" fill="#050505" stroke="#050505" stroke-width="0.6"/>
</g>
<ellipse cx="124.5" cy="318.2" rx="3" ry="1.6" fill="#e2e2e2" filter="url(#bl1)"/>
<text x="389.7" y="319.5" font-size="16" text-anchor="start" fill="#262626" textLength="72.9" lengthAdjust="spacingAndGlyphs">p-FOXO3a</text>
<text x="681.7" y="319.2" font-size="16.5" text-anchor="start" fill="#262626" textLength="48.4" lengthAdjust="spacingAndGlyphs">75 kDa</text>
<rect x="489.3" y="302.4" width="180.6" height="20.2" fill="#fafafa" stroke="#e2e2e2" stroke-width="1.4" filter="url(#bl2)"/>
<rect x="669.2" y="303.5" width="2.4" height="18.5" fill="#a0a0a0" filter="url(#bl2)"/>
<line x1="671.5" y1="312" x2="677" y2="312" stroke="#c2c2c2" stroke-width="1.5"/>
<g filter="url(#bl2)" fill="none" stroke="#3c3c3c" stroke-linecap="round">
<path d="M494,309.2 C503,309 512,310.2 520.5,310.8" stroke="#5c5c5c" stroke-width="4.2"/>
<path d="M531.5,310.4 C539,310.8 546,312.6 553.8,312.9" stroke-width="4.2"/>
<path d="M565.5,311.6 C575,312 584,313.4 592.2,313.4" stroke-width="4.6"/>
<path d="M604,313.4 C612,315 621,315.2 628.2,314.2" stroke-width="4.6"/>
<path d="M640,315.5 C648,315.8 656,315.2 663.8,314.4" stroke="#707070" stroke-width="2.7"/>
</g>
<text x="427.0" y="643.7" font-size="16.3" text-anchor="start" fill="#262626" textLength="52.2" lengthAdjust="spacingAndGlyphs">MuRF1</text>
<text x="695.8" y="642.8" font-size="16.5" text-anchor="start" fill="#262626" textLength="49.6" lengthAdjust="spacingAndGlyphs">45 kDa</text>
<rect x="490" y="628" width="192.4" height="20.2" fill="#ebebeb" stroke="#d8d8d8" stroke-width="1.4" filter="url(#bl2)"/>
<rect x="490" y="647.2" width="192.6" height="1.8" fill="#b0b0b0" filter="url(#bl4)"/>
<rect x="681.6" y="628.5" width="2.4" height="19.5" fill="#a2a2a2" filter="url(#bl2)"/>
<line x1="684" y1="637.4" x2="690" y2="637.4" stroke="#c6c6c6" stroke-width="1.5"/>
<g filter="url(#bl3)" fill="none" stroke-linecap="round">
<path d="M498,640 C507,640.4 517,639.8 526,638.4" stroke="#a8a8a8" stroke-width="7"/>
<path d="M538.5,638.4 C548,638.8 558,638.6 566.5,637.8" stroke="#9a9a9a" stroke-width="9.5"/>
<path d="M579,639.4 C587,639.8 595,639.6 601,639.2" stroke="#d2d2d2" stroke-width="6"/>
<path d="M611,635.6 C621,638 634,638 644.5,635.8" stroke="#a8a8a8" stroke-width="9"/>
</g>
<g filter="url(#bl1)" fill="none" stroke-linecap="round">
<path d="M538.5,637 C548,637.6 558,637.4 566.5,636.4" stroke="#383838" stroke-width="4.8"/>
<path d="M612,635.6 C622,638.4 634,638.4 644,635.8" stroke="#3c3c3c" stroke-width="4.8"/>
</g>
</g>
</svg></body></html>
